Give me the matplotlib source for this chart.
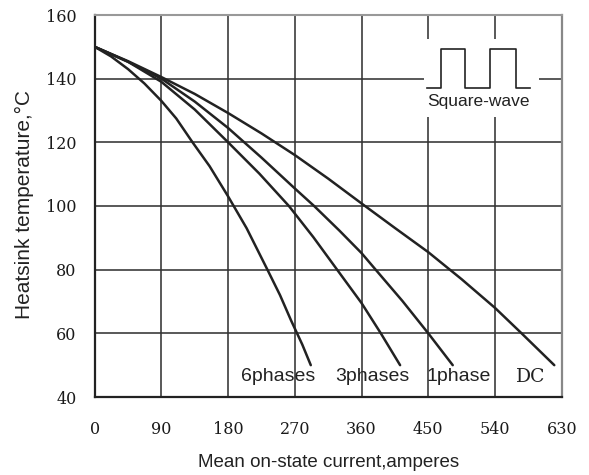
import matplotlib
matplotlib.use("Agg")
import matplotlib.pyplot as plt
from matplotlib.patches import Rectangle

# ---- data ----
x_ticks = [0, 90, 180, 270, 360, 450, 540, 630]
y_ticks = [40, 60, 80, 100, 120, 140, 160]

dc_x = [0, 45, 90, 135, 180, 225, 270, 315, 360, 405, 450, 495, 540, 575, 620]
dc_y = [150, 145.5, 140.5, 135.2, 129.2, 122.8, 116, 108.6, 100.8, 93.1, 85.5, 77, 68, 60.2, 50]

ph1_x = [0, 45, 90, 135, 180, 225, 270, 296, 330, 360, 379, 415, 450, 483]
ph1_y = [150, 145.3, 140, 132.8, 124.5, 115.2, 105.5, 100, 92.3, 85.2, 80, 70.2, 60, 50]

ph3_x = [0, 45, 90, 135, 180, 222, 262, 295, 327, 360, 386, 412]
ph3_y = [150, 145.3, 139, 130.3, 120, 110.2, 100, 90.2, 80, 69.5, 60, 50]

ph6_x = [0, 22, 45, 67, 90, 110, 132, 155, 180, 205, 233, 250, 265, 280, 291.5]
ph6_y = [150, 147, 143, 138.5, 133, 127.5, 120, 112.5, 103, 93, 80, 72, 64, 56.5, 50]

curve_labels = ["6phases", "3phases", "1phase", "DC"]
label_x = [248, 375, 491, 588]
label_y = 46.3

W, H = 589, 475
fig = plt.figure(figsize=(W / 100, H / 100), dpi=100)
ax = fig.add_axes([94.7 / W, 1 - 397 / H, (561.7 - 94.7) / W, (397 - 15) / H])

ax.set_xlim(0, 630)
ax.set_ylim(40, 160)
ax.set_xticks(x_ticks)
ax.set_yticks(y_ticks)
ax.grid(True, color="#333333", linewidth=1.15)
ax.set_axisbelow(True)

line_kw = dict(color="#222222", linewidth=1.8, solid_capstyle="round",
               solid_joinstyle="round", zorder=3)
for xs, ys in [(dc_x, dc_y), (ph1_x, ph1_y), (ph3_x, ph3_y), (ph6_x, ph6_y)]:
    ax.plot(xs, ys, **line_kw)

# tick styling
serif = ["DejaVu Serif"]
ax.tick_params(axis="both", length=0)
ax.tick_params(axis="x", pad=17)
ax.tick_params(axis="y", pad=13)
for lab in ax.get_xticklabels() + ax.get_yticklabels():
    lab.set_family(serif)
    lab.set_fontsize(11.5)
    lab.set_color("#1a1a1a")

# spines
for s in ["left", "bottom"]:
    ax.spines[s].set_color("#222222")
    ax.spines[s].set_linewidth(1.6)
ax.spines["top"].set_color("#999999")
ax.spines["top"].set_linewidth(1.5)
ax.spines["right"].set_color("#888888")
ax.spines["right"].set_linewidth(1.6)

# axis labels
ax.set_xlabel("Mean on-state current,amperes", family=["Liberation Sans"], fontsize=13.5,
              color="#222222")
ax.set_ylabel("Heatsink temperature,\u00b0C", family=["Liberation Sans"], fontsize=15,
              color="#222222")
ax.xaxis.set_label_coords(0.5, -0.150)
ax.yaxis.set_label_coords(-0.130, 0.503)

# curve labels
for i, t in enumerate(curve_labels):
    fam = serif if t == "DC" else ["Liberation Sans"]
    ax.text(label_x[i], label_y, t, family=fam, fontsize=14 if t != "DC" else 13.5,
            ha="center", va="center", color="#222222", zorder=5)

# square-wave inset (white patch covering grid + waveform glyph)
ax.add_patch(Rectangle((444, 128.1), 155.6, 24.4, facecolor="white", edgecolor="none", zorder=2))
wave_x = [447.7, 466.6, 466.6, 500.2, 500.2, 533.8, 533.8, 568.7, 568.7, 587.5]
wave_y = [137.2, 137.2, 149.4, 149.4, 137.2, 137.2, 149.4, 149.4, 137.2, 137.2]
ax.plot(wave_x, wave_y, color="#222222", linewidth=1.2, zorder=4)
ax.text(517.5, 132.9, "Square-wave", family=["Liberation Sans"], fontsize=12.5,
        ha="center", va="center", color="#222222", zorder=5)

fig.savefig("out.png", dpi=100, facecolor="white")
